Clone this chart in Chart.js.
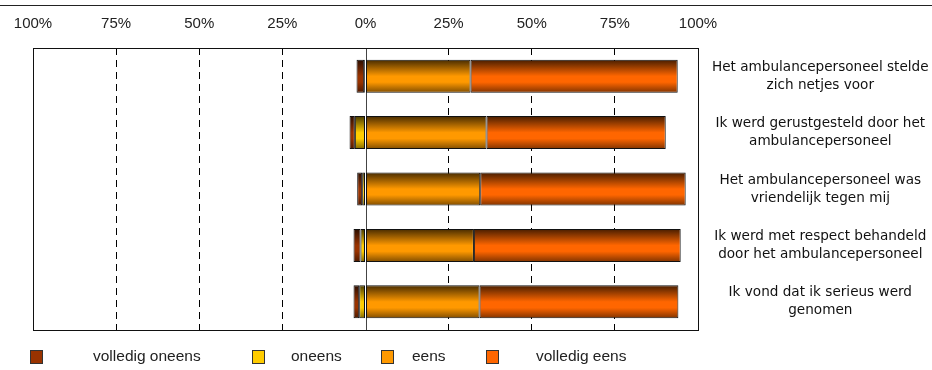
<!DOCTYPE html>
<html>
<head>
<meta charset="utf-8">
<script src="https://cdn.jsdelivr.net/npm/chart.js@4.4.0/dist/chart.umd.min.js"></script>
<style>
  body { margin: 0; background: #fff; }
  #wrap { position: relative; width: 932px; height: 370px; }
  #rule { position: absolute; left: 0; top: 5px; width: 932px; border-top: 1px solid #222; }
  #legend { position: absolute; left: 0; top: 0; width: 932px; height: 370px; pointer-events: none; }
  .box { position: absolute; top: 350px; width: 11px; height: 12px; border: 1px solid #333; }
  .lbl { position: absolute; top: 347px; font: 15.5px "Liberation Sans", Arial, sans-serif; color: #222; }
</style>
</head>
<body>
<div id="wrap">
  <div id="rule"></div>
  <canvas id="likertChart" width="932" height="370"></canvas>
  <div id="legend"></div>
</div>
<script>
const categories = [
  ["Het ambulancepersoneel stelde", "zich netjes voor"],
  ["Ik werd gerustgesteld door het", "ambulancepersoneel"],
  ["Het ambulancepersoneel was", "vriendelijk tegen mij"],
  ["Ik werd met respect behandeld", "door het ambulancepersoneel"],
  ["Ik vond dat ik serieus werd", "genomen"],
];
const volledigOneens = [2.3, 1.6, 1.5, 2.1, 1.7];
const oneens = [0.4, 3.2, 1.0, 1.5, 1.9];
const eens = [31.6, 36.4, 34.5, 32.6, 34.3];
const volledigEens = [62.3, 53.9, 61.8, 62.2, 59.8];
const axisTicks = [-100, -75, -50, -25, 0, 25, 50, 75, 100];

const colors = {
  "volledig oneens": "#993300",
  oneens: "#ffcc00",
  eens: "#ff9900",
  "volledig eens": "#ff6600",
};

const barPct = 0.585;

function darken(hex, f) {
  const n = parseInt(hex.slice(1), 16);
  const r = Math.round(((n >> 16) & 255) * f);
  const g = Math.round(((n >> 8) & 255) * f);
  const b = Math.round((n & 255) * f);
  return `rgb(${r},${g},${b})`;
}

// vertical shading so the bars look like the old Excel tubes
function tube(hex) {
  return function (c) {
    const chart = c.chart;
    const ys = chart.scales && chart.scales.y;
    if (!ys || c.dataIndex === undefined || !chart.chartArea) return hex;
    const mid = ys.getPixelForValue(c.dataIndex);
    const half = (ys.height / categories.length) * barPct / 2;
    const g = chart.ctx.createLinearGradient(0, mid - half, 0, mid + half);
    g.addColorStop(0, darken(hex, 0.28));
    g.addColorStop(0.5, hex);
    g.addColorStop(0.68, hex);
    g.addColorStop(1, darken(hex, 0.5));
    return g;
  };
}

const neg = (arr) => arr.map((v) => -v);

const framePlugin = {
  id: "frame",
  beforeDatasetsDraw(chart) {
    const { ctx, chartArea } = chart;
    const x0 = Math.round(chart.scales.x.getPixelForValue(0)) + 0.5;
    ctx.save();
    ctx.strokeStyle = "#444";
    ctx.lineWidth = 1;
    ctx.beginPath();
    ctx.moveTo(x0, chartArea.top);
    ctx.lineTo(x0, chartArea.bottom);
    ctx.stroke();
    ctx.restore();
  },
  afterDatasetsDraw(chart) {
    const { ctx, chartArea } = chart;
    ctx.save();
    ctx.strokeStyle = "#111";
    ctx.lineWidth = 1;
    ctx.strokeRect(
      Math.round(chartArea.left) + 0.5,
      Math.round(chartArea.top) + 0.5,
      Math.round(chartArea.right - chartArea.left),
      Math.round(chartArea.bottom - chartArea.top)
    );
    ctx.restore();
  },
};

const ctx = document.getElementById("likertChart").getContext("2d");
const likertChart = new Chart(ctx, {
  type: "bar",
  data: {
    labels: categories,
    datasets: [
      { label: "oneens", data: neg(oneens), backgroundColor: tube(colors.oneens) },
      { label: "volledig oneens", data: neg(volledigOneens), backgroundColor: tube(colors["volledig oneens"]) },
      { label: "eens", data: eens, backgroundColor: tube(colors.eens) },
      { label: "volledig eens", data: volledigEens, backgroundColor: tube(colors["volledig eens"]) },
    ],
  },
  options: {
    indexAxis: "y",
    responsive: false,
    animation: false,
    layout: { padding: { left: 33, right: 4, top: 0, bottom: 40 } },
    datasets: {
      bar: {
        borderColor: "#111",
        borderWidth: 1,
        borderSkipped: false,
        categoryPercentage: 1,
        barPercentage: barPct,
      },
    },
    plugins: {
      legend: { display: false },
      tooltip: { enabled: false },
    },
    scales: {
      x: {
        position: "top",
        stacked: true,
        min: -100,
        max: 100,
        afterBuildTicks: (axis) => {
          axis.ticks = axisTicks.map((v) => ({ value: v }));
        },
        afterFit: (axis) => {
          // labels may hang over the edges, like in the source
          axis.paddingLeft = 0;
          axis.paddingRight = 0;
        },
        ticks: {
          padding: 15,
          color: "#222",
          font: { family: "'Liberation Sans', Arial, sans-serif", size: 15 },
          callback: (v) => Math.abs(v) + "%",
        },
        grid: {
          drawTicks: false,
          color: (c) => (c.tick && Math.abs(c.tick.value) % 100 !== 0 ? "#000" : "rgba(0,0,0,0)"),
          lineWidth: 1,
        },
        border: { display: false, dash: [7, 5] },
      },
      y: {
        position: "right",
        stacked: true,
        afterFit: (axis) => {
          axis.width = 230;
          axis.paddingTop = 0;
          axis.paddingBottom = 0;
        },
        ticks: {
          padding: 6,
          crossAlign: "center",
          color: "#111",
          font: { family: "'DejaVu Sans', Verdana, sans-serif", size: 13.6, lineHeight: 1.32 },
        },
        grid: { display: false },
        border: { display: false },
      },
    },
  },
  plugins: [framePlugin],
});

// legend in the original order, spaced like the source
const legendOrder = ["volledig oneens", "oneens", "eens", "volledig eens"];
const legendX = [[30, 93], [252, 291], [381, 412], [486, 536]];
const legendEl = document.getElementById("legend");
legendOrder.forEach((name, i) => {
  const box = document.createElement("div");
  box.className = "box";
  box.style.left = legendX[i][0] + "px";
  box.style.background = colors[name];
  legendEl.appendChild(box);
  const lbl = document.createElement("div");
  lbl.className = "lbl";
  lbl.style.left = legendX[i][1] + "px";
  lbl.textContent = name;
  legendEl.appendChild(lbl);
});
</script>
</body>
</html>
